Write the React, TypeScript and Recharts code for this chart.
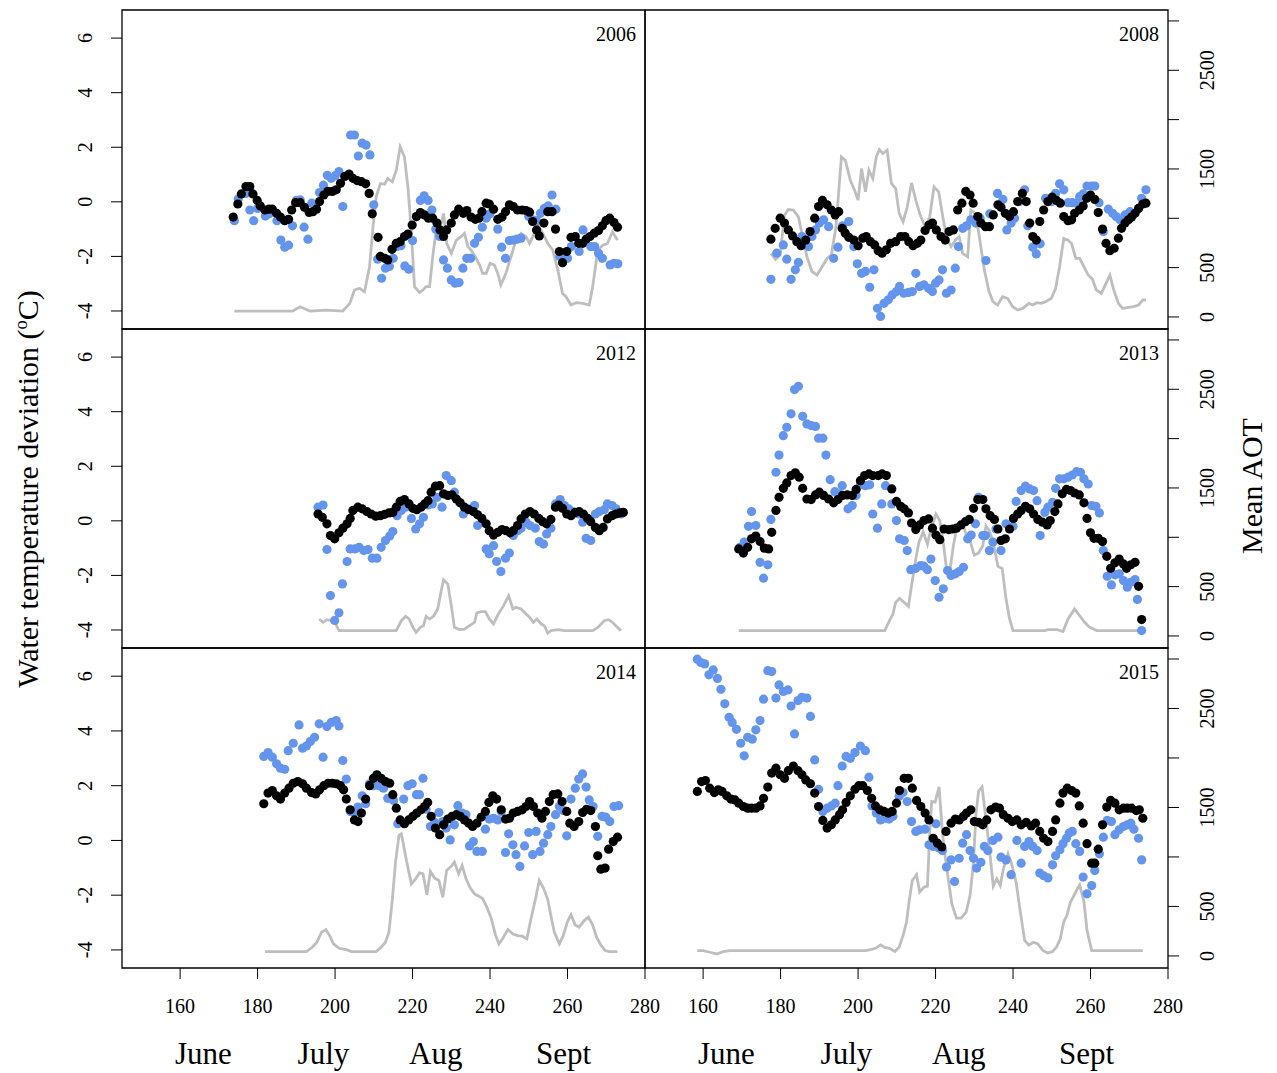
import { ComposedChart, Scatter, Line, XAxis, YAxis, ReferenceArea } from 'recharts';

// [day of year, temperature deviation]
type Pair = [number, number];

const black2006: Pair[] = [[173.7,-0.56],[174.9,-0.08],[175.8,0.29],[177,0.56],[178,0.56],[178.8,0.29],[179.9,0.05],[180.7,-0.15],[181.9,-0.3],[182.9,-0.27],[183.8,-0.27],[184.9,-0.42],[185.9,-0.56],[187,-0.69],[188,-0.64],[188.8,-0.3],[189.8,-0.03],[191,-0.03],[192.1,-0.2],[193.3,-0.39],[194.3,-0.36],[195.2,-0.27],[196,0.01],[197.1,0.25],[198.1,0.38],[199.3,0.38],[200.3,0.44],[201.4,0.68],[202.5,0.93],[203.6,1.02],[204.6,0.86],[205.7,0.78],[206.8,0.74],[207.9,0.66],[208.8,0.31],[209.6,-0.44],[211.1,-1.3],[211.7,-2.0],[212.8,-2.07],[213.6,-2.13],[214.7,-1.74],[215.8,-1.52],[216.8,-1.46],[217.9,-1.27],[218.8,-1.18],[219.9,-0.85],[221,-0.54],[222,-0.39],[223.1,-0.48],[224.1,-0.6],[225.2,-0.6],[226.3,-0.78],[227.1,-1.03],[228,-1.27],[228.8,-1.03],[230,-0.78],[230.8,-0.48],[231.9,-0.27],[233.1,-0.42],[234,-0.32],[235.1,-0.56],[236.2,-0.64],[237.1,-0.6],[237.9,-0.36],[239,-0.05],[239.8,-0.08],[240.9,-0.27],[242,-0.64],[243.1,-0.56],[244,-0.36],[245,-0.11],[246,-0.17],[247.1,-0.3],[248.3,-0.3],[249.3,-0.32],[250.2,-0.38],[251,-0.72],[252,-1.03],[252.7,-1.25],[253.9,-0.78],[254.9,-0.36],[256,-0.36],[256.9,-1.0],[257.9,-1.82],[258.7,-2.23],[259.8,-1.82],[260.9,-1.3],[262,-1.27],[262.9,-1.52],[263.9,-1.52],[264.8,-1.37],[265.8,-1.27],[266.9,-1.15],[268,-1.05],[269,-0.88],[269.9,-0.69],[270.9,-0.6],[272,-0.76],[272.9,-0.93]];
const blue2006: Pair[] = [[174,-0.69],[175,0.1],[177,0.31],[178,-0.3],[179,-0.69],[180,-0.24],[182,-0.52],[183,-0.44],[185,-0.69],[186,-1.4],[187,-1.66],[188,-1.59],[189,-0.88],[190,0.05],[191,0.07],[192,-0.93],[193,-1.37],[194,-0.05],[196,0.34],[197,0.61],[198,0.97],[199,0.86],[200,0.95],[201,1.11],[202,-0.17],[204,2.45],[205,2.45],[206,1.68],[207,2.15],[208,2.08],[209,1.72],[210,-0.11],[211,-2.1],[212,-2.8],[213,-2.43],[214,-2.37],[215,-2.07],[216,-1.64],[217,-1.61],[218,-2.35],[219,-2.47],[220,-1.42],[221,-0.54],[222,0.05],[223,0.22],[224,0.05],[225,-0.3],[226,-1.0],[227,-1.27],[228,-2.13],[229,-2.43],[230,-2.86],[231,-2.98],[232,-2.96],[233,-2.43],[234,-2.07],[235,-2.07],[236,-1.52],[237,-1.3],[238,-0.93],[239,-0.6],[240,-0.44],[242,-1.0],[243,-1.66],[244,-2.07],[245,-1.42],[246,-1.4],[247,-1.37],[248,-1.33],[250,-0.54],[251,-0.66],[252,-0.69],[253,-0.42],[254,-0.24],[255,-0.15],[256,0.25],[257,-0.27],[258,-2.0],[259,-2.13],[260,-2.07],[261,-1.64],[263,-1.82],[264,-1.03],[266,-1.64],[267,-1.64],[268,-1.88],[269,-2.07],[271,-2.31],[272,-2.25],[273,-2.27]];
// [day of year, mean AOT]
const aot2006: Pair[] = [[174,60],[189,60],[191,104],[193.5,60],[197.7,70],[202,60],[203.8,138],[205,273],[206.3,290],[207.6,256],[208.9,509],[209.8,914],[210.6,1218],[211.7,1353],[212.8,1346],[213.6,1403],[214.8,1370],[215.8,1488],[216.8,1724],[217.9,1623],[218.8,1319],[219.6,914],[220.5,307],[221.8,246],[222.7,273],[223.5,307],[224.4,307],[225.2,610],[226.1,880],[227.4,948],[228,1049],[228.8,745],[230,644],[231.3,779],[232.5,813],[233.4,847],[234.3,712],[235.1,678],[236.2,610],[237.3,526],[238.1,442],[239,442],[240,543],[241.1,526],[242,442],[242.8,324],[244.1,442],[245.4,610],[246.7,779],[248,847],[249.3,813],[250.2,745],[251.4,847],[252.6,921],[253.6,847],[254.9,745],[256.2,678],[257.5,475],[258.7,239],[259.6,205],[260.9,121],[262.2,145],[263.9,138],[265.6,121],[266.5,307],[267.8,678],[269.1,728],[270.3,745],[271.6,864],[272.9,779]];

const black2008: Pair[] = [[177.5,-1.37],[178.6,-0.97],[179.9,-0.6],[181,-0.78],[182,-1.03],[183.1,-1.25],[184.2,-1.46],[185.3,-1.61],[186.5,-1.4],[187.6,-1.09],[188.8,-0.6],[189.8,-0.17],[190.8,0.05],[192,-0.11],[193.1,-0.3],[194.1,-0.48],[195,-0.36],[195.9,-0.97],[196.7,-1.15],[197.6,-1.3],[198.9,-1.4],[200,-1.61],[201.2,-1.33],[202.1,-1.27],[203.2,-1.46],[204.3,-1.58],[205.2,-1.79],[206.2,-1.88],[207.3,-1.76],[208.4,-1.52],[209.7,-1.46],[211,-1.27],[212.1,-1.27],[213.1,-1.46],[214.2,-1.61],[215.3,-1.52],[216.2,-1.4],[217.3,-1.05],[218.3,-0.85],[219.2,-0.78],[220.2,-1.03],[221.4,-1.27],[222.5,-1.4],[223.5,-1.09],[224.6,-1.03],[225.7,-0.3],[226.8,-0.05],[227.8,0.38],[228.9,0.25],[229.7,-0.05],[230.9,-0.54],[231.7,-0.78],[232.9,-0.91],[233.9,-0.91],[234.9,-0.48],[236.1,-0.11],[236.9,-0.2],[238,-0.42],[239.1,-0.54],[240.1,-0.36],[241.2,0.01],[242.4,0.31],[243.4,0.01],[244.3,-0.78],[245.1,-1.27],[246,-1.4],[246.9,-0.72],[247.9,-0.3],[249,0.01],[250.1,0.17],[251.2,0.05],[252.2,-0.05],[253.1,-0.54],[254.2,-0.69],[255.1,-0.66],[255.9,-0.42],[257.1,-0.3],[258.1,-0.15],[259,0.13],[260,0.25],[261.1,0.09],[262,-0.39],[263.1,-1.0],[264,-1.52],[265,-1.79],[266.1,-1.7],[267.2,-1.33],[268,-0.97],[268.9,-0.78],[269.8,-0.66],[270.6,-0.56],[271.5,-0.42],[272.4,-0.24],[273.5,-0.08],[274.3,-0.05]];
const blue2008: Pair[] = [[177.5,-2.84],[179,-1.88],[180.7,-1.58],[181.6,-2.1],[182.7,-2.84],[183.8,-2.49],[184.6,-2.22],[185.5,-1.27],[186.4,-1.4],[187.2,-1.64],[188.1,-1.27],[189,-1.03],[190,-0.78],[191.1,-0.66],[192.4,-0.91],[193.7,-2.07],[194.8,-1.66],[196,-0.88],[197.6,-0.72],[198.9,-1.64],[199.8,-2.27],[200.9,-2.62],[201.9,-2.55],[203,-3.13],[204.1,-2.49],[205,-3.9],[205.8,-4.2],[206.7,-3.72],[207.8,-3.59],[208.8,-3.41],[209.9,-3.29],[210.7,-3.1],[211.8,-3.35],[213,-3.32],[214,-3.29],[214.9,-2.62],[215.9,-3.1],[217,-3.04],[218.2,-3.17],[219.2,-3.29],[220,-2.98],[220.9,-2.86],[221.8,-2.49],[222.8,-3.35],[224,-3.23],[225.1,-2.43],[225.9,-1.64],[227,-0.97],[228,-0.88],[229.1,-0.66],[230.4,-0.78],[231.5,-0.6],[233,-2.15],[234,-0.44],[236,0.31],[237.4,0.09],[238.4,-1.03],[239.5,-0.78],[240.4,-0.6],[241.7,0.01],[243,0.44],[243.8,-0.88],[245.1,-1.66],[246,-1.91],[247,-1.54],[248.4,0.13],[249.9,0.01],[251,0.31],[252,0.66],[253.1,0.44],[254.2,-0.03],[255.3,-0.03],[256.4,-0.05],[257.2,0.19],[258.1,0.29],[259.1,0.58],[260.3,0.58],[261.1,0.58],[262.2,-0.03],[263.3,-1.09],[264.6,-0.27],[265.7,-0.42],[266.6,-0.54],[267.6,-0.66],[268.9,-0.48],[270.2,-0.36],[271.2,-0.44],[272.4,-0.24],[273.2,0.13],[274.3,0.44]];
const aot2008: Pair[] = [[177.5,644],[178.7,583],[179.9,627],[181,1032],[182,1089],[183.3,1083],[184.6,1015],[185.7,813],[186.8,610],[188.1,459],[189.4,425],[190.7,509],[192,593],[193.1,627],[194.3,914],[195.7,1623],[196.7,1589],[198,1386],[199.1,1285],[200,1184],[200.9,1504],[201.9,1268],[202.8,1488],[203.8,1403],[204.7,1623],[205.5,1697],[206.4,1656],[207.5,1690],[208.6,1353],[209.7,1302],[210.6,1049],[211.6,965],[212.7,1116],[213.8,1359],[214.9,1184],[215.9,1049],[217.3,914],[218.5,1015],[219.6,1319],[220.8,1268],[221.8,1032],[222.8,813],[224,712],[225.1,779],[226.1,813],[227,644],[228.3,610],[229.1,1083],[230.3,1049],[231.3,813],[232.6,475],[233.7,273],[234.8,155],[236,121],[237.3,205],[238.6,189],[239.9,104],[241.2,70],[242.5,87],[244.1,138],[245.1,121],[246.2,145],[247.3,138],[248.4,155],[249.9,189],[251,290],[252,509],[253.1,796],[254.2,779],[255.1,745],[256.2,593],[257.2,593],[258.3,509],[259.4,425],[260.5,381],[261.5,273],[262.8,239],[264,340],[265,425],[266,273],[267.2,138],[268.3,87],[269.8,97],[271.1,104],[272.4,121],[273.5,172],[274.3,172]];

const black2012: Pair[] = [[195.6,0.25],[196.7,0.13],[197.9,-0.11],[198.8,-0.54],[199.9,-0.66],[201,-0.44],[202,-0.27],[203.1,-0.11],[203.9,0.09],[204.6,0.38],[205.9,0.5],[207,0.44],[208.2,0.34],[209.3,0.25],[210.5,0.17],[211.7,0.19],[212.8,0.24],[213.9,0.29],[214.9,0.31],[215.8,0.5],[216.8,0.71],[217.9,0.78],[219.1,0.62],[220.1,0.46],[221.1,0.41],[222.2,0.5],[223.1,0.62],[224,0.74],[224.8,1.05],[225.9,1.27],[227,1.29],[228,0.99],[229.1,0.93],[230.2,0.95],[231.3,0.8],[232.3,0.66],[233.4,0.5],[234.5,0.41],[235.7,0.34],[236.8,0.22],[237.9,0.09],[239,-0.11],[239.8,-0.36],[240.9,-0.52],[242,-0.42],[243.1,-0.32],[244.1,-0.36],[245.2,-0.44],[246,-0.36],[247.1,-0.17],[248,0.07],[249.1,0.25],[250.3,0.34],[251.4,0.25],[252.6,0.09],[253.6,-0.03],[254.6,-0.11],[255.7,0.05],[256.9,0.5],[257.7,0.58],[258.7,0.46],[259.8,0.25],[260.9,0.19],[262,0.31],[263,0.34],[264.1,0.25],[265.2,0.09],[266,-0.03],[267.2,-0.24],[268.2,-0.36],[269.2,-0.24],[270.3,0.07],[271.5,0.19],[272.5,0.25],[273.5,0.29],[274.4,0.31]];
const blue2012: Pair[] = [[195.6,0.5],[196.9,0.58],[197.9,-1.05],[198.8,-2.74],[199.9,-3.65],[201,-3.37],[201.9,-2.31],[203.1,-1.49],[203.9,-1.03],[205.1,-1.03],[206.2,-0.97],[207.4,-1.09],[208.5,-1.05],[209.6,-1.37],[210.8,-1.37],[211.9,-0.97],[213,-0.72],[214.1,-0.56],[214.9,-0.39],[216,0.19],[217.1,0.38],[218.2,0.5],[219.7,0.09],[220.8,-0.3],[221.8,-0.11],[222.8,0.13],[224,0.58],[225.1,0.62],[226.3,0.86],[227.6,0.5],[228.7,1.66],[230,1.47],[230.8,1.05],[232.1,0.68],[233.1,0.25],[234.5,0.44],[236,0.56],[236.8,-0.17],[238,-0.05],[239,-1.03],[239.8,-1.21],[240.9,-0.91],[241.7,-1.49],[242.8,-1.86],[244,-1.37],[245,-1.18],[246,-0.54],[247.1,-0.36],[248,-0.27],[249.3,-0.05],[250.3,-0.17],[251.7,-0.27],[252.7,-0.76],[253.8,-0.85],[254.6,-0.48],[255.7,-0.27],[256.9,0.62],[258.1,0.78],[259.2,0.56],[260.3,0.44],[261.3,0.34],[262.9,0.25],[263.9,-0.05],[264.8,-0.64],[266,-0.72],[267.2,0.25],[268.2,0.34],[269.5,0.41],[270.3,0.62],[271.5,0.56],[272.5,0.44],[273.8,0.25]];
const aot2012: Pair[] = [[195.9,172],[196.9,138],[197.9,165],[199,155],[199.9,145],[201,54],[205.5,54],[215.8,54],[217.1,155],[218.2,199],[219.1,172],[220.1,87],[220.9,37],[222,87],[222.8,104],[223.5,199],[224.4,172],[225.4,199],[226.5,273],[227.4,459],[228,570],[229.1,526],[230,307],[230.8,87],[232.1,64],[233.4,70],[234.7,104],[236,138],[236.6,233],[237.7,246],[238.8,246],[239.8,172],[240.9,121],[242,212],[243.5,307],[244.8,408],[245.9,273],[246.7,290],[248,273],[249.3,222],[250.2,189],[251.2,138],[252.1,172],[253.2,121],[254,104],[254.9,30],[255.7,54],[257.5,64],[259.2,54],[266.5,54],[267.8,87],[269.5,155],[270.6,165],[271.6,138],[272.9,87],[273.8,54]];

const black2013: Pair[] = [[169.2,-1.03],[170.4,-1.18],[171.5,-0.97],[172.5,-0.66],[173.6,-0.56],[174.7,-0.76],[175.8,-1.0],[176.9,-1.03],[177.7,-0.42],[178.8,0.38],[179.6,0.86],[180.7,1.19],[181.6,1.39],[182.7,1.66],[183.8,1.76],[184.8,1.6],[185.7,1.19],[186.8,0.8],[187.9,0.78],[189,0.95],[190,1.05],[191.1,0.93],[192.4,0.8],[193.7,0.66],[194.8,0.78],[196,0.93],[197.2,0.95],[198.5,0.93],[199.5,1.15],[200.6,1.47],[201.7,1.66],[202.8,1.72],[203.8,1.66],[205.2,1.66],[206.2,1.72],[207.3,1.66],[208.7,1.17],[209.9,0.71],[211,0.53],[211.9,0.44],[213,0.29],[213.8,-0.08],[214.9,-0.32],[215.9,-0.15],[217,0.01],[218.2,0.07],[219.2,-0.27],[220.1,-0.52],[221.1,-0.69],[222.2,-0.3],[223.4,-0.32],[224.4,-0.3],[225.4,-0.27],[226.6,-0.15],[227.7,-0.03],[228.7,0.05],[229.8,0.46],[230.9,0.78],[232.2,0.78],[233,0.44],[234.1,0.19],[235.2,0.05],[236.1,-0.3],[236.9,-0.72],[238,-0.66],[239.1,-0.3],[240.1,0.09],[241.2,0.25],[242.1,0.38],[243.2,0.53],[244.3,0.44],[245.3,0.25],[246.4,0.05],[247.6,-0.05],[248.8,-0.15],[249.6,0.01],[250.8,0.34],[251.6,0.62],[252.7,0.99],[253.8,1.15],[254.8,1.11],[255.9,1.02],[257.1,0.95],[258.3,0.66],[259.1,0.09],[260,-0.44],[260.9,-0.64],[262,-0.64],[263.1,-0.76],[264.2,-1.3],[265.2,-1.74],[266.3,-1.54],[267.4,-1.4],[268.5,-1.58],[269.3,-1.74],[270.4,-1.61],[271.5,-1.52],[272.4,-2.4],[273.2,-3.62]];
const blue2013: Pair[] = [[169.5,-0.97],[170.6,-0.78],[171.7,-0.2],[172.5,0.34],[173.6,-0.17],[174.7,-1.52],[175.6,-2.1],[176.7,-1.61],[177.5,0.05],[178.8,1.78],[179.6,2.41],[180.7,3.12],[181.6,3.43],[182.7,3.92],[183.6,4.81],[184.6,4.93],[185.7,3.83],[186.8,3.55],[187.9,3.49],[189,3.46],[189.8,3.03],[190.9,3.03],[191.7,2.41],[192.8,1.51],[194,1.07],[195,0.99],[195.9,1.29],[197.4,0.44],[198.5,0.56],[199.5,0.93],[200.6,1.32],[201.9,1.29],[203,1.32],[203.8,0.25],[205,-0.27],[206.1,0.62],[207.1,1.29],[208.7,0.62],[209.9,0.01],[210.7,-0.66],[211.9,-0.72],[212.7,-1.09],[213.6,-1.79],[214.9,-1.74],[216.2,-1.64],[217,-1.66],[217.9,-1.79],[218.8,-1.4],[219.9,-2.19],[220.9,-2.8],[222,-2.49],[223.1,-1.82],[224,-2.0],[225.1,-1.94],[226.1,-1.86],[227.2,-1.7],[228.3,-0.66],[229.2,-0.52],[230.3,-0.11],[231.1,0.86],[232.2,-0.54],[232.9,-0.54],[233.9,-1.09],[234.8,-0.78],[235.6,-0.3],[236.9,-1.09],[238.2,-0.11],[240,-0.2],[240.8,0.71],[242.1,1.11],[243.2,1.27],[244.3,1.17],[245.3,1.11],[246.2,0.74],[247,-0.54],[248.2,0.31],[249,0.5],[250.2,0.68],[251,1.19],[252,1.54],[253.1,1.54],[254.2,1.6],[255.3,1.68],[256.4,1.8],[257.4,1.78],[258.3,1.54],[259.4,1.35],[260.3,0.56],[261.4,0.53],[262.3,0.29],[263.3,-1.09],[264.3,-2.03],[265.4,-2.35],[266.3,-1.98],[267.4,-1.94],[268.5,-2.19],[269.5,-2.43],[270.4,-2.25],[271.5,-2.15],[272.1,-2.88],[273.2,-4.02]];
const aot2013: Pair[] = [[169.2,54],[206.9,54],[208.1,155],[209,222],[209.7,340],[210.7,381],[211.9,340],[213,300],[213.8,509],[214.9,779],[215.7,948],[216.8,1056],[217.9,931],[218.8,1083],[220.1,1234],[221.1,1167],[222,948],[222.8,685],[223.5,610],[224.6,914],[225.4,1083],[226.3,1133],[227.2,1116],[228,1015],[228.9,965],[230,820],[231.1,840],[232.2,914],[233,1116],[233.9,1065],[234.9,948],[236.1,705],[237.2,685],[238.2,374],[239.1,172],[240,54],[248.2,54],[249,64],[250.3,64],[251.4,64],[252.9,44],[254.2,172],[255.9,273],[257.2,205],[258.5,138],[259.8,87],[261.6,54],[273.2,54]];

const black2014: Pair[] = [[181.6,1.34],[182.7,1.73],[183.8,1.82],[184.9,1.63],[185.9,1.51],[187,1.73],[188.1,1.91],[189.2,2.09],[190.4,2.15],[191.6,2.07],[192.6,1.91],[193.9,1.75],[195,1.7],[196,1.85],[197.1,2.0],[198.2,2.09],[199.3,2.09],[200.3,2.07],[201.4,2.0],[202.2,1.85],[202.9,1.51],[203.9,1.12],[205,0.75],[205.9,0.69],[206.8,1.0],[207.9,1.51],[208.9,2.0],[209.9,2.27],[210.8,2.4],[211.9,2.27],[213,2.15],[214.1,2.09],[214.9,1.67],[215.8,1.18],[216.8,0.75],[217.9,0.61],[219,0.75],[220.1,0.88],[221.1,1.0],[222.2,1.12],[223.1,1.24],[223.9,1.39],[224.8,0.88],[225.9,0.45],[227,0.21],[228,0.57],[229.1,0.78],[230.2,0.88],[231.3,0.94],[232.3,0.88],[233.4,0.75],[234.5,0.63],[235.5,0.51],[236.6,0.63],[237.7,0.85],[238.8,1.06],[239.7,1.39],[240.7,1.63],[241.7,1.51],[242.9,1.12],[244,0.78],[245,0.81],[246,1.0],[247.1,1.06],[248.3,1.12],[249.3,1.24],[250.2,1.42],[251.2,1.24],[252.3,1.0],[253.4,0.81],[254.3,1.06],[255.3,1.42],[256.3,1.67],[257.5,1.7],[258.6,1.42],[259.8,1.06],[260.6,0.63],[261.7,0.51],[262.9,0.69],[263.9,1.02],[264.9,1.14],[266,1.09],[267.2,0.51],[267.8,-0.56],[268.6,-1.05],[269.7,-1.01],[270.6,-0.32],[271.8,-0.04],[272.9,0.12]];
const blue2014: Pair[] = [[181.6,3.07],[182.7,3.21],[183.8,3.04],[184.9,2.8],[185.9,2.64],[187,2.6],[187.9,3.28],[189.2,3.55],[190.7,4.22],[191.6,3.37],[192.6,3.45],[193.6,3.61],[194.7,3.77],[195.9,4.26],[196.9,3.04],[197.9,4.16],[199,4.31],[200.3,4.38],[201,4.18],[202,2.92],[202.9,2.24],[203.9,1.06],[205,1.02],[205.9,1.22],[207,1.63],[207.9,1.34],[208.9,2.07],[209.9,2.0],[211.3,2.0],[212.5,1.91],[213.6,1.54],[215.1,1.46],[216.2,0.61],[217.7,1.51],[218.8,2.0],[219.9,2.07],[221,1.67],[221.8,1.67],[222.7,2.27],[223.5,1.14],[224.6,0.51],[225.7,0.66],[226.8,1.02],[227.8,0.69],[228.7,0.45],[229.7,0.02],[230.8,0.57],[231.7,1.27],[232.8,1.0],[233.8,0.94],[234.7,-0.2],[235.7,-0.04],[236.6,-0.4],[238,-0.4],[238.8,0.41],[239.8,0.78],[240.9,0.81],[242,0.75],[242.9,1.06],[244,-0.44],[244.8,0.24],[245.9,-0.16],[246.7,-0.52],[247.7,-0.95],[248.9,-0.2],[250,0.29],[251,-0.52],[251.9,0.33],[252.9,-0.4],[253.8,-0.1],[254.9,0.21],[255.7,0.51],[256.9,0.94],[257.9,1.24],[258.9,1.09],[259.8,0.17],[260.9,1.51],[262,1.91],[262.9,2.24],[263.9,2.43],[264.8,1.95],[265.6,1.48],[266.6,1.24],[267.8,0.15],[268.9,0.88],[269.9,0.85],[270.9,0.69],[272,1.24],[273.2,1.27]];
const aot2014: Pair[] = [[181.9,44],[192.6,44],[194.1,87],[195.3,138],[196.5,239],[197.6,266],[198.6,205],[199.6,121],[201,77],[202.9,64],[204.2,44],[210.6,44],[211.9,87],[213,138],[213.9,239],[214.8,577],[215.6,948],[216.5,1218],[217.1,1234],[217.7,1116],[218.5,948],[219.7,728],[220.8,779],[221.8,840],[222.7,830],[223.7,617],[224.6,853],[225.7,786],[226.8,762],[227.8,593],[228.8,863],[230,907],[230.8,948],[231.9,830],[232.8,914],[233.8,779],[234.9,685],[236,627],[237.1,604],[238.1,577],[239.2,492],[240.3,381],[241.4,212],[242.3,121],[243.3,179],[244.6,266],[245.9,222],[247.1,205],[248.3,199],[249.5,172],[250.6,381],[251.7,570],[252.7,762],[253.8,685],[254.9,570],[255.7,408],[256.6,239],[257.9,121],[258.9,205],[260,347],[260.9,415],[262,313],[263,290],[264.3,357],[265.4,391],[266.5,313],[267.5,189],[268.6,111],[269.7,54],[270.8,44],[272.9,44]];

const black2015: Pair[] = [[158.5,1.79],[159.6,2.15],[160.6,2.19],[161.7,1.91],[162.9,1.75],[163.9,1.85],[164.9,1.79],[166.1,1.63],[167.2,1.51],[168.2,1.48],[169.2,1.36],[170.4,1.24],[171.5,1.18],[172.5,1.18],[173.6,1.18],[174.7,1.26],[175.6,1.54],[176.7,1.95],[177.7,2.46],[178.8,2.64],[179.9,2.4],[181,2.27],[182,2.55],[183.3,2.72],[184.5,2.55],[185.5,2.4],[186.5,2.21],[187.7,2.07],[188.8,1.73],[189.8,1.24],[190.9,0.73],[192,0.45],[193.1,0.57],[194.1,0.75],[195.2,0.94],[196,1.12],[196.9,1.39],[198,1.63],[199.2,1.87],[200.2,2.0],[201.2,2.0],[202.4,1.82],[203.5,1.54],[204.5,1.26],[205.6,1.12],[206.7,1.06],[207.8,1.0],[208.8,1.06],[209.9,1.36],[210.7,1.82],[211.9,2.27],[213,2.27],[214,1.91],[215.1,1.46],[216.2,1.24],[217.3,1.0],[218.3,0.75],[219.4,0.08],[220.5,-0.1],[221.6,-0.24],[222.7,0.33],[224,0.63],[225.1,0.78],[226.1,0.75],[227.2,0.88],[228,1.0],[229.1,1.12],[230,0.69],[231.1,0.66],[232.2,0.57],[233.2,0.75],[234.3,1.12],[235.5,1.22],[236.5,1.18],[237.5,0.94],[238.7,0.81],[239.8,0.69],[241,0.75],[242.1,0.57],[243.4,0.66],[244.7,0.53],[245.8,0.63],[246.9,0.33],[247.9,0.08],[249,-0.04],[250.2,0.33],[251,0.75],[252.1,1.36],[252.9,1.73],[254,1.91],[255.1,1.82],[256.2,1.73],[257.1,1.26],[258.1,0.63],[259.1,-0.12],[260.3,-0.83],[261.1,-0.83],[262,-0.32],[263.1,0.57],[264.2,1.22],[265.2,1.46],[266.3,1.36],[267.4,1.12],[268.5,1.18],[269.5,1.18],[270.6,1.18],[271.8,1.09],[272.6,1.12],[273.5,0.81]];
const blue2015: Pair[] = [[158.5,6.62],[159.4,6.5],[160.4,6.45],[161.5,6.05],[162.6,6.23],[163.7,5.92],[164.6,5.52],[165.6,4.99],[166.7,4.5],[167.5,4.31],[168.6,4.06],[169.7,3.55],[170.6,3.09],[171.5,3.77],[172.7,3.7],[173.6,4.04],[174.7,4.38],[175.6,5.16],[176.7,6.2],[177.7,6.17],[178.8,5.2],[179.6,5.68],[180.7,5.44],[181.9,5.5],[182.7,4.91],[183.6,3.89],[184.5,5.11],[185.5,5.23],[186.8,5.2],[187.7,4.53],[188.8,2.94],[189.8,1.87],[190.9,1.06],[192,1.18],[193.1,1.26],[194.1,1.36],[194.8,2.0],[195.9,2.72],[196.9,3.07],[198,3.0],[199.2,3.21],[200.6,3.45],[201.9,3.28],[202.8,2.31],[203.6,1.26],[204.7,1.0],[205.8,0.75],[206.9,0.81],[208,0.78],[209,0.88],[210.6,1.61],[211.6,1.75],[212.7,1.42],[213.8,0.69],[214.9,0.33],[215.9,0.39],[217.3,0.41],[218.3,-0.16],[219.4,-0.22],[220.1,0.61],[220.9,-0.28],[221.8,-0.37],[222.8,-0.97],[224,-0.71],[224.9,-1.5],[226.1,-0.65],[227,-0.1],[228,0.21],[228.9,-0.37],[229.8,-0.65],[230.6,-1.01],[231.7,-0.8],[232.6,-0.22],[233.5,-0.37],[234.8,0.0],[236.1,0.12],[236.9,-0.61],[238.2,-0.71],[239.5,-1.25],[241,0.0],[242.1,-0.83],[243,-0.22],[244.1,-0.04],[245.1,-0.22],[246.2,-0.37],[246.9,-1.19],[247.9,-1.29],[249,-1.37],[250.2,-0.89],[251,-0.56],[252.1,-0.34],[252.9,-0.12],[253.8,0.08],[254.5,0.27],[255.3,0.33],[256.2,-0.12],[257.2,-0.4],[258.1,-1.34],[259.1,-1.95],[260.3,-1.65],[261.1,-1.1],[262.3,-0.49],[263.3,0.12],[264.3,0.73],[265.4,0.69],[266.3,0.21],[267.4,0.39],[268.5,0.51],[269.5,0.57],[270.4,0.63],[271.2,0.41],[272.4,0.08],[273.2,-0.71]];
const aot2015: Pair[] = [[158.5,54],[160,54],[161.7,37],[163.5,20],[165.2,44],[166.9,54],[170.8,54],[201.9,54],[203.2,64],[204.5,77],[205.8,111],[206.9,87],[208.1,77],[209.5,44],[210.6,87],[211.6,205],[212.5,340],[213.2,560],[214,762],[215.1,820],[215.9,644],[217,695],[217.9,705],[218.5,1245],[219,1562],[219.9,1555],[220.9,1707],[221.8,1234],[222.5,998],[223.4,745],[224.2,526],[225.4,381],[226.6,381],[227.9,442],[228.9,610],[229.8,948],[230.4,1420],[231.1,1663],[232,1707],[232.9,1420],[233.9,1083],[234.9,705],[235.8,779],[236.7,712],[237.5,880],[238.7,1032],[239.5,948],[240.8,745],[241.9,442],[243,155],[244.1,111],[245.3,138],[246.4,121],[247.7,54],[249,30],[250.2,44],[251.2,87],[252.2,172],[253.1,347],[253.9,408],[254.8,543],[255.5,593],[256.5,671],[257.2,718],[258.3,550],[259.1,256],[260.3,54],[273.5,54]];

const dayTicks = [160, 180, 200, 220, 240, 260, 280];
const tempTicks = [-4, -2, 0, 2, 4, 6];
const aotTicks = [0, 500, 1000, 1500, 2000, 2500, 3000];
const aotLabelled = [0, 500, 1500, 2500];
const monthDays = [166, 197, 226, 259];
const monthNames = ['June', 'July', 'Aug', 'Sept'];

const FONT = '"Liberation Serif", "Times New Roman", serif';
const TEMP_DOMAIN: [number, number] = [-4.66, 7.03];
const AOT_DOMAIN: [number, number] = [-122, 3111];
const ROW_TOP = [10, 329, 648];
const ROW_H = [319, 319, 320];
const BLUE = '#6495ed';

const temp = (a: Pair[]) => a.map(([d, v]) => ({ d, v }));
const aot = (a: Pair[]) => a.map(([d, v]) => ({ d, a: v }));

const panels = [
  { year: '2006', col: 0, row: 0, blue: blue2006, black: black2006, aot: aot2006 },
  { year: '2008', col: 1, row: 0, blue: blue2008, black: black2008, aot: aot2008 },
  { year: '2012', col: 0, row: 1, blue: blue2012, black: black2012, aot: aot2012 },
  { year: '2013', col: 1, row: 1, blue: blue2013, black: black2013, aot: aot2013 },
  { year: '2014', col: 0, row: 2, blue: blue2014, black: black2014, aot: aot2014 },
  { year: '2015', col: 1, row: 2, blue: blue2015, black: black2015, aot: aot2015 },
];

function TempTick(props: any) {
  const { x, y, payload } = props;
  return (
    <text x={x} y={y} transform={`rotate(-90 ${x} ${y})`} textAnchor="middle" dominantBaseline="central"
      fontSize={20} fontFamily={FONT} fill="#000">{payload.value}</text>
  );
}

function AotTick(props: any) {
  const { x, y, payload } = props;
  if (!aotLabelled.includes(payload.value)) return <g />;
  return (
    <text x={x} y={y} transform={`rotate(-90 ${x} ${y})`} textAnchor="middle" dominantBaseline="central"
      fontSize={20} fontFamily={FONT} fill="#000">{payload.value}</text>
  );
}

const dot = (fill: string) => (p: any) => <circle cx={p.cx} cy={p.cy} r={4.6} fill={fill} />;

function Panel({ p }: { p: (typeof panels)[number] }) {
  const left = p.col === 0;
  const bottom = p.row === 2;
  const plotH = ROW_H[p.row];
  const width = left ? 620 : 603;
  const height = 10 + plotH + (bottom ? 105 : 10);
  const plotRight = left ? 645 : 1168;
  // the month axis shares the day domain; the AOT line is tied to it so the axis gets drawn
  const lineAxis = bottom ? 'm' : 'd';
  return (
    <>
      <div style={{ position: 'absolute', left: left ? 40 : 635, top: ROW_TOP[p.row] - 10 }}>
        <ComposedChart width={width} height={height}
          margin={{ top: 10, right: left ? 15 : 10, bottom: bottom ? 0 : 10, left: left ? 0 : 10 }}>
          <XAxis xAxisId="d" dataKey="d" type="number" domain={[145, 280]} allowDataOverflow ticks={dayTicks}
            interval={0} hide={!bottom} height={50} tickSize={11} tickMargin={20} axisLine={false} stroke="#000"
            tick={{ fill: '#000', fontSize: 20, fontFamily: FONT }} />
          {bottom && (
            <XAxis xAxisId="m" dataKey="d" type="number" domain={[145, 280]} allowDataOverflow ticks={monthDays}
              interval={0} tickFormatter={(v: number) => monthNames[monthDays.indexOf(v)]} height={55}
              tickSize={0} tickMargin={24} axisLine={false} tickLine={false}
              tick={{ fill: '#000', fontSize: 31, fontFamily: FONT }} />
          )}
          <YAxis yAxisId="t" type="number" domain={TEMP_DOMAIN} allowDataOverflow ticks={tempTicks} interval={0}
            hide={!left} width={82} orientation="left" axisLine={false} tickSize={11} tickMargin={26}
            stroke="#000" tick={<TempTick />} />
          <YAxis yAxisId="a" type="number" domain={AOT_DOMAIN} allowDataOverflow ticks={aotTicks} interval={0}
            hide={left} width={60} orientation="right" axisLine={false} tickSize={11} tickMargin={28}
            stroke="#000" tick={<AotTick />} />
          <ReferenceArea xAxisId="d" yAxisId="t" x1={145} x2={280} y1={TEMP_DOMAIN[0]} y2={TEMP_DOMAIN[1]}
            fill="none" fillOpacity={0} stroke="#000" strokeWidth={1.3} />
          <Line xAxisId={lineAxis} yAxisId="a" data={aot(p.aot)} dataKey="a" type="linear" stroke="#bebebe"
            strokeWidth={2.8} dot={false} activeDot={false} isAnimationActive={false} />
          <Scatter xAxisId="d" yAxisId="t" data={temp(p.blue)} dataKey="v" fill={BLUE} shape={dot(BLUE)}
            isAnimationActive={false} />
          <Scatter xAxisId="d" yAxisId="t" data={temp(p.black)} dataKey="v" fill="#000" shape={dot('#000')}
            isAnimationActive={false} />
        </ComposedChart>
      </div>
      <div style={{ position: 'absolute', left: plotRight - 9 - 100, width: 100, top: ROW_TOP[p.row] + 14,
        textAlign: 'right', fontSize: 20, lineHeight: '20px', fontFamily: FONT, color: '#000' }}>{p.year}</div>
    </>
  );
}

export default function App() {
  return (
    <div style={{ position: 'absolute', left: 0, top: 0, width: 1277, height: 1073, background: '#fff',
      overflow: 'hidden', fontFamily: FONT }}>
      {panels.map((p) => <Panel key={p.year} p={p} />)}
      <div style={{ position: 'absolute', left: 28, top: 489, transform: 'translate(-50%, -50%) rotate(-90deg)',
        whiteSpace: 'nowrap', fontSize: 30, lineHeight: '30px', color: '#000' }}>
        Water temperature deviation (<span style={{ fontSize: '0.62em', verticalAlign: 'super', lineHeight: 0 }}>o</span>C)
      </div>
      <div style={{ position: 'absolute', left: 1252, top: 486, transform: 'translate(-50%, -50%) rotate(-90deg)',
        whiteSpace: 'nowrap', fontSize: 30, lineHeight: '30px', color: '#000' }}>
        Mean AOT
      </div>
    </div>
  );
}
